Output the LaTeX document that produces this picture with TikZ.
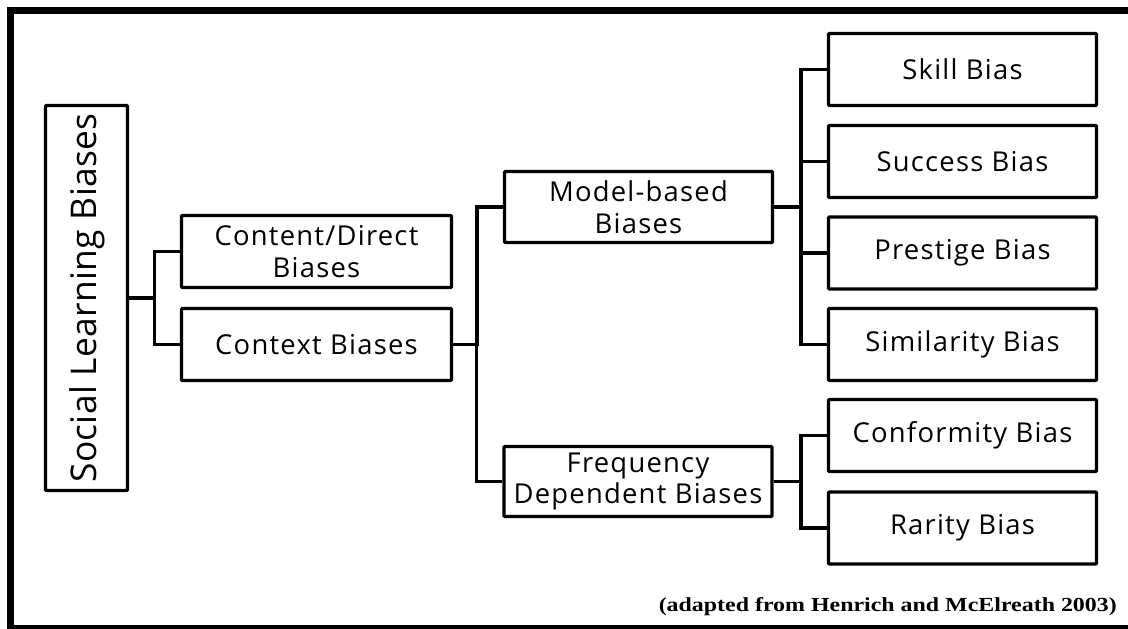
\documentclass[tikz,border=0pt]{standalone}
\usepackage{fontspec}
\setmainfont{Open Sans}[LetterSpace=4.5]
\newfontfamily\titlefont{Open Sans}[LetterSpace=1]
\newfontfamily\captionfont{Liberation Serif}
\begin{document}
\begin{tikzpicture}[x=1bp,y=-1bp,
  box/.style={draw, line width=3.2bp, rounded corners=1bp, align=center,
    inner sep=0pt, font=\fontsize{27.5}{32}\selectfont},
  leaf/.style={box, minimum width=268bp, minimum height=72bp},
  mid/.style={box, minimum width=270bp, minimum height=72bp},
  link/.style={line width=3.2bp}]
\useasboundingbox (0,0) rectangle (1128,629);
\clip (0,0) rectangle (1128,629);
% outer frame (right edge runs off the page)
\draw[line width=7bp] (10.5,10.5) rectangle (1150,628);

% root
\node[box, minimum width=82bp, minimum height=385bp] (soc) at (86.5,298)
  {};
\node[rotate=90, font=\titlefont\fontsize{35.5}{36}\selectfont, inner sep=0pt] (soctext) at ([xshift=1bp]soc.center)
  {Social Learning Biases};

% second level
\node[mid] (content) at (316.5,251.5) {Content/Direct\\Biases};
\node[mid] (context) at (316.5,344.5) {Context Biases};

% third level
\node[mid, minimum width=268bp, minimum height=71bp] (model) at (638.5,207) {Model-based\\Biases};
\node[mid, minimum width=268bp, minimum height=70bp] (freq) at (638,481.5) {Frequency\\Dependent Biases};

% leaves
\node[leaf] (skill) at (962.5,69.5) {Skill Bias};
\node[leaf] (success) at (962.5,161.5) {Success Bias};
\node[leaf] (prestige) at (962.5,253) {Prestige Bias};
\node[leaf] (similar) at (962.5,344.5) {Similarity Bias};
\node[leaf] (conform) at (962.5,435.5) {Conformity Bias};
\node[leaf] (rarity) at (962.5,528) {Rarity Bias};

% connectors
\foreach \t in {content,context}
  \draw[link] (soc.east) -| ([xshift=-25bp]\t.west) -- (\t.west);
\foreach \t in {model,freq}
  \draw[link] (context.east) -| ([xshift=-26bp]\t.west) -- (\t.west);
\foreach \t in {skill,success,prestige,similar}
  \draw[link] (model.east) -| ([xshift=-26bp]\t.west) -- (\t.west);
\foreach \t in {conform,rarity}
  \draw[link] (freq.east) -| ([xshift=-26bp]\t.west) -- (\t.west);

% source note
\node[anchor=base east, inner sep=0pt, font=\captionfont\bfseries\fontsize{20}{22}\selectfont] (note)
  at (1117,611) {\scalebox{1.2}[1]{(adapted from Henrich and McElreath 2003)}};
\end{tikzpicture}
\end{document}
